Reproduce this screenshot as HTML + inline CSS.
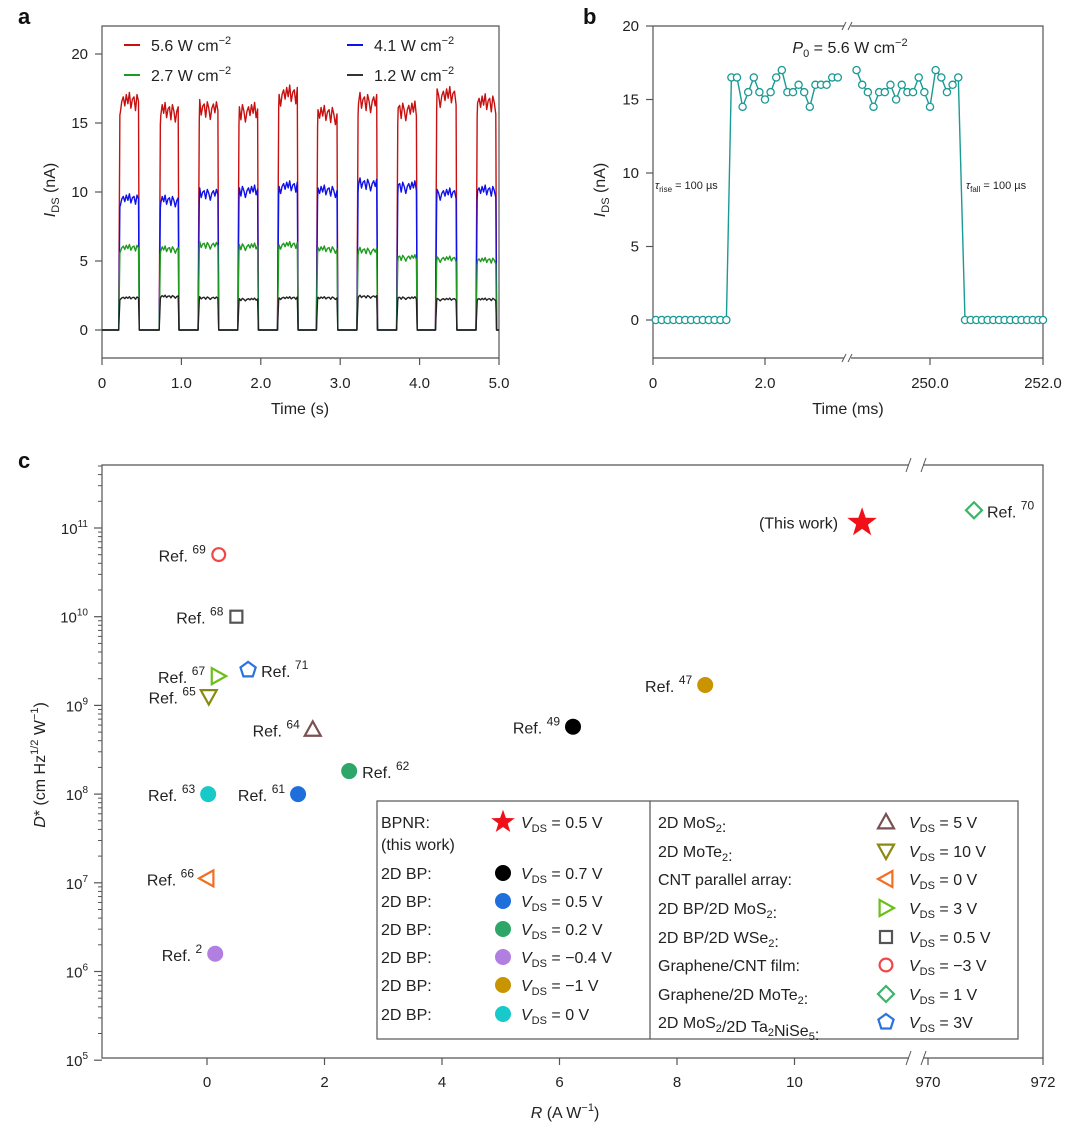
<!DOCTYPE html>
<html><head><meta charset="utf-8"><style>
html,body{margin:0;padding:0;background:#fff;}
svg{display:block;font-family:"Liberation Sans",Arial,sans-serif;}
</style></head><body>
<svg id="fig" width="1080" height="1135" viewBox="0 0 1080 1135" xmlns="http://www.w3.org/2000/svg">
<g id="pa"></g>
<g id="pb"></g>
<g id="pc"></g>
</svg>
<script>
// ---------- Panel a data ----------
const aTicksX = [0,1,2,3,4,5];
const aTickLabelsX = ["0","1.0","2.0","3.0","4.0","5.0"];
const aTicksY = [0,5,10,15,20];
const aRise = [0.21,0.72,1.21,1.71,2.21,2.70,3.21,3.71,4.20,4.71];
const aFall = [0.47,0.97,1.47,1.97,2.47,2.97,3.47,3.97,4.47,4.97];
const aRed   = [16.4,15.7,15.9,15.7,16.9,15.5,16.4,15.8,16.8,16.3];
const aBlue  = [9.4,9.3,9.8,10.0,10.3,10.0,10.5,10.3,9.8,10.0];
const aGreen = [5.9,5.8,6.1,6.0,6.1,5.8,5.7,5.2,5.1,5.0];
const aBlack = [2.3,2.4,2.3,2.2,2.3,2.3,2.4,2.3,2.2,2.2];
const aWiggle = [-0.04,0.01,0.03,-0.01,0.04,0.0,0.05,-0.02,0.02,0.03,-0.03,0.04,0.01];

// ---------- Panel b data ----------
const bLowLeftT = [0.05,0.155,0.26,0.365,0.47,0.575,0.68,0.785,0.89,0.995,1.1,1.205,1.31];
const bHighLeftT = [1.4,1.5,1.6,1.7,1.8,1.9,2.0,2.1,2.2,2.3,2.4,2.5,2.6,2.7,2.8,2.9,3.0,3.1,3.2,3.3];
const bHighLeftV = [16.5,16.5,14.5,15.5,16.5,15.5,15.0,15.5,16.5,17.0,15.5,15.5,16.0,15.5,14.5,16.0,16.0,16.0,16.5,16.5];
const bHighRightT = [248.7,248.8,248.9,249.0,249.1,249.2,249.3,249.4,249.5,249.6,249.7,249.8,249.9,250.0,250.1,250.2,250.3,250.4,250.5];
const bHighRightV = [17.0,16.0,15.5,14.5,15.5,15.5,16.0,15.0,16.0,15.5,15.5,16.5,15.5,14.5,17.0,16.5,15.5,16.0,16.5];
const bLowRightT = [250.62,250.72,250.82,250.92,251.02,251.12,251.22,251.32,251.42,251.52,251.62,251.72,251.82,251.92,252.0];
const bTicksY = [0,5,10,15,20];

// ---------- Panel c data ----------
const cNames = ["69","68","67","71","65","64","62","63","61","49","47","66","2","this","70"];
const cR    = [0.2,0.5,0.19,0.7,0.03,1.8,2.42,0.02,1.55,6.23,8.48,0.0,0.14,11.15,970.8];
const cLogD = [10.7,10.0,9.33,9.40,9.1,8.73,8.26,8.0,8.0,8.76,9.23,7.05,6.2,11.06,11.2];
const cShape = ["ocircle","square","tright","pent","tdown","tup","dot","dot","dot","dot","dot","tleft","dot","star","diamond"];
const cColor = ["#f04848","#555555","#6cbf1a","#2a72e0","#8a8a10","#7a5050","#2ea66a","#17c9c9","#1e6fdc","#000000","#c89400","#f07020","#b07fe0","#f01018","#3ab56a"];
const cSide = ["L","L","L","R","L","L","R","L","L","L","L","L","L","L","R"];
const cTicksX = [0,2,4,6,8,10];
const cTicksX2 = [970,972];
const cDecades = [5,6,7,8,9,10,11];

const NS="http://www.w3.org/2000/svg";
function mk(parent,tag,attrs){const e=document.createElementNS(NS,tag);for(const k in attrs)e.setAttribute(k,attrs[k]);parent.appendChild(e);return e;}

// ===== Panel a =====
const pa=document.getElementById('pa');
const aL=102,aR=499,aT=26,aB=358;
const ax=t=>aL+(t-0)*(aR-aL)/5;
const ay=v=>330-v*13.8;
let e;
e=mk(pa,'path',{d:`M${aL} ${aB} V${aT} H${aR} V${aB} Z`,fill:'none',stroke:'#555','stroke-width':1.2});


aTicksX.forEach((t,i)=>{
  mk(pa,'line',{x1:ax(t),x2:ax(t),y1:aB,y2:aB+7,stroke:'#555','stroke-width':1.2});
  e=mk(pa,'text',{x:ax(t),y:388,'font-size':15,'text-anchor':'middle',fill:'#222'});e.textContent=aTickLabelsX[i];
  
  
});
aTicksY.forEach(v=>{
  mk(pa,'line',{x1:aL,x2:aL-7,y1:ay(v),y2:ay(v),stroke:'#555','stroke-width':1.2});
  e=mk(pa,'text',{x:aL-14,y:ay(v)+5,'font-size':15,'text-anchor':'end',fill:'#222'});e.textContent=v;
  
  
});
e=mk(pa,'text',{x:300,y:414,'font-size':16,'text-anchor':'middle',fill:'#222'});e.textContent='Time (s)';


e=mk(pa,'text',{transform:'translate(55,190) rotate(-90)','font-size':16,'text-anchor':'middle',fill:'#222'});
e.innerHTML='<tspan font-style="italic">I</tspan><tspan font-size="11" dy="4">DS</tspan><tspan dy="-4"> (nA)</tspan>';


function trace(levels,color,name){
  let d=`M${ax(0)} ${ay(0)}`;
  levels.forEach((lv,i)=>{
    const t0=aRise[i],t1=aFall[i];
    d+=` L${ax(t0)} ${ay(0)} L${ax(t0+0.015)} ${ay(lv*0.95)}`;
    const n=aWiggle.length;
    for(let k=0;k<n;k++){const t=t0+0.02+(t1-t0-0.03)*k/(n-1);d+=` L${ax(t).toFixed(1)} ${ay(lv*(1+aWiggle[(k+i*3)%n])).toFixed(1)}`;}
    d+=` L${ax(t1)} ${ay(0)}`;
  });
  d+=` L${ax(5)} ${ay(0)}`;
  const p=mk(pa,'path',{d:d,fill:'none',stroke:color,'stroke-width':1.4,'stroke-linejoin':'round'});
  
  
}
trace(aRed,'#c81010','trace-5.6');
trace(aBlue,'#1010e8','trace-4.1');
trace(aGreen,'#1e9a1e','trace-2.7');
trace(aBlack,'#222','trace-1.2');
[[124,45,'#c81010','5.6'],[347,45,'#1010e8','4.1'],[124,75,'#1e9a1e','2.7'],[347,75,'#333','1.2']].forEach(l=>{
  mk(pa,'line',{x1:l[0],x2:l[0]+16,y1:l[1],y2:l[1],stroke:l[2],'stroke-width':2});
  e=mk(pa,'text',{x:l[0]+27,y:l[1]+6,'font-size':16,fill:'#222'});
  e.innerHTML=l[3]+' W cm<tspan font-size="11" dy="-7">−2</tspan>';
  
  
});
e=mk(pa,'text',{x:18,y:24,'font-size':22,'font-weight':'bold',fill:'#111'});e.textContent='a';



// ===== Panel b =====
const pb=document.getElementById('pb');
const bL=653,bR=1043,bT=26,bB=358,bBreak=848;
const bx=t=>t<100? bL+t*56 : 930+(t-250)*56.5;
const by=v=>320-v*14.7;
e=mk(pb,'path',{d:`M${bL} ${bT} V${bB} H${bR} V${bT} H${bL}`,fill:'none',stroke:'#555','stroke-width':1.2});


[bT,bB].forEach(y=>{
  mk(pb,'rect',{x:bBreak-4,y:y-4,width:7,height:8,fill:'#fff'});
  mk(pb,'line',{x1:bBreak-6,y1:y+4,x2:bBreak-2,y2:y-4,stroke:'#555'});
  mk(pb,'line',{x1:bBreak,y1:y+4,x2:bBreak+4,y2:y-4,stroke:'#555'});
});
[[0,'0'],[2,'2.0'],[250,'250.0'],[252,'252.0']].forEach(t=>{
  mk(pb,'line',{x1:bx(t[0]),x2:bx(t[0]),y1:bB,y2:bB+7,stroke:'#555','stroke-width':1.2});
  e=mk(pb,'text',{x:bx(t[0]),y:388,'font-size':15,'text-anchor':'middle',fill:'#222'});e.textContent=t[1];
  
  
});
bTicksY.forEach(v=>{
  mk(pb,'line',{x1:bL,x2:bL-7,y1:by(v),y2:by(v),stroke:'#555','stroke-width':1.2});
  e=mk(pb,'text',{x:bL-14,y:by(v)+5,'font-size':15,'text-anchor':'end',fill:'#222'});e.textContent=v;
  
  
});
e=mk(pb,'text',{x:848,y:414,'font-size':16,'text-anchor':'middle',fill:'#222'});e.textContent='Time (ms)';


e=mk(pb,'text',{transform:'translate(605,190) rotate(-90)','font-size':16,'text-anchor':'middle',fill:'#222'});
e.innerHTML='<tspan font-style="italic">I</tspan><tspan font-size="11" dy="4">DS</tspan><tspan dy="-4"> (nA)</tspan>';


const segL=[...bLowLeftT.map(t=>[t,0]),...bHighLeftT.map((t,i)=>[t,bHighLeftV[i]])];
const segR=[...bHighRightT.map((t,i)=>[t,bHighRightV[i]]),...bLowRightT.map(t=>[t,0])];
[segL,segR].forEach((seg,si)=>{
  const pl=mk(pb,'polyline',{points:seg.map(p=>bx(p[0]).toFixed(1)+','+by(p[1]).toFixed(1)).join(' '),fill:'none',stroke:'#1a9a94','stroke-width':1.4});
  
  
  seg.forEach(p=>{
    const c=mk(pb,'circle',{cx:bx(p[0]),cy:by(p[1]),r:3.6,fill:'#fff',stroke:'#1a9a94','stroke-width':1.3});
    
    
  });
});
e=mk(pb,'text',{x:850,y:53,'font-size':16,'text-anchor':'middle',fill:'#222'});
e.innerHTML='<tspan font-style="italic">P</tspan><tspan font-size="11" dy="4">0</tspan><tspan dy="-4"> = 5.6 W cm</tspan><tspan font-size="11" dy="-7">−2</tspan>';


e=mk(pb,'text',{x:655,y:189,'font-size':11,fill:'#222'});
e.innerHTML='<tspan font-style="italic">τ</tspan><tspan font-size="8" dy="3">rise</tspan><tspan dy="-3"> = 100 µs</tspan>';


e=mk(pb,'text',{x:966,y:189,'font-size':11,fill:'#222'});
e.innerHTML='<tspan font-style="italic">τ</tspan><tspan font-size="8" dy="3">fall</tspan><tspan dy="-3"> = 100 µs</tspan>';


e=mk(pb,'text',{x:583,y:24,'font-size':22,'font-weight':'bold',fill:'#111'});e.textContent='b';



// ===== Panel c =====
const pc=document.getElementById('pc');
const cL=102,cRt=1043,cT=465,cB=1058,cBreak=916;
const cx=r=>r<100? 207+r*58.75 : 928+(r-970)*57.5;
const cy=l=>528+(11-l)*88.7;
e=mk(pc,'path',{d:`M${cL} ${cT} V${cB} H${cRt} V${cT} Z`,fill:'none',stroke:'#555','stroke-width':1.2});


[cT,cB].forEach(y=>{
  mk(pc,'rect',{x:cBreak-7,y:y-4,width:14,height:8,fill:'#fff'});
  mk(pc,'line',{x1:cBreak-10,y1:y+7,x2:cBreak-5,y2:y-7,stroke:'#555'});
  mk(pc,'line',{x1:cBreak+5,y1:y+7,x2:cBreak+10,y2:y-7,stroke:'#555'});
});
[...cTicksX,...cTicksX2].forEach(r=>{
  mk(pc,'line',{x1:cx(r),x2:cx(r),y1:cB,y2:cB+7,stroke:'#555','stroke-width':1.2});
  e=mk(pc,'text',{x:cx(r),y:1087,'font-size':15,'text-anchor':'middle',fill:'#222'});e.textContent=r;
  
  
});
cDecades.forEach(d=>{
  mk(pc,'line',{x1:cL,x2:cL-8,y1:cy(d),y2:cy(d),stroke:'#555','stroke-width':1.2});
  for(let m=2;m<=9;m++){const y=cy(d+Math.log10(m));if(y>=cT)mk(pc,'line',{x1:cL,x2:cL-4,y1:y,y2:y,stroke:'#555'});}
  e=mk(pc,'text',{x:cL-14,y:cy(d)+6,'font-size':15,'text-anchor':'end',fill:'#222'});
  e.innerHTML='10<tspan font-size="10" dy="-7">'+d+'</tspan>';
  
  
});
e=mk(pc,'text',{x:565,y:1118,'font-size':16,'text-anchor':'middle',fill:'#222'});
e.innerHTML='<tspan font-style="italic">R</tspan> (A W<tspan font-size="11" dy="-7">−1</tspan><tspan dy="7">)</tspan>';


e=mk(pc,'text',{transform:'translate(45,765) rotate(-90)','font-size':16,'text-anchor':'middle',fill:'#222'});
e.innerHTML='<tspan font-style="italic">D</tspan>* (cm Hz<tspan font-size="11" dy="-7">1/2</tspan><tspan dy="7"> W</tspan><tspan font-size="11" dy="-7">−1</tspan><tspan dy="7">)</tspan>';


function marker(g,shape,x,y,col,s){
  const S=s||8;let m;
  if(shape==='dot') m=mk(g,'circle',{cx:x,cy:y,r:S,fill:col});
  else if(shape==='ocircle') m=mk(g,'circle',{cx:x,cy:y,r:S*0.8,fill:'none',stroke:col,'stroke-width':2.2});
  else if(shape==='square') m=mk(g,'rect',{x:x-S*0.75,y:y-S*0.75,width:S*1.5,height:S*1.5,fill:'none',stroke:col,'stroke-width':2.2});
  else if(shape==='diamond') m=mk(g,'polygon',{points:`${x},${y-S} ${x+S},${y} ${x},${y+S} ${x-S},${y}`,fill:'none',stroke:col,'stroke-width':2.2});
  else if(shape==='tup') m=mk(g,'polygon',{points:`${x},${y-S} ${x+S},${y+S*0.8} ${x-S},${y+S*0.8}`,fill:'none',stroke:col,'stroke-width':2.2});
  else if(shape==='tdown') m=mk(g,'polygon',{points:`${x},${y+S} ${x+S},${y-S*0.8} ${x-S},${y-S*0.8}`,fill:'none',stroke:col,'stroke-width':2.2});
  else if(shape==='tright') m=mk(g,'polygon',{points:`${x+S},${y} ${x-S*0.8},${y-S} ${x-S*0.8},${y+S}`,fill:'none',stroke:col,'stroke-width':2.2});
  else if(shape==='tleft') m=mk(g,'polygon',{points:`${x-S},${y} ${x+S*0.8},${y-S} ${x+S*0.8},${y+S}`,fill:'none',stroke:col,'stroke-width':2.2});
  else if(shape==='pent'){let p=[];for(let k=0;k<5;k++){const a=-Math.PI/2+k*2*Math.PI/5;p.push((x+S*Math.cos(a)).toFixed(1)+','+(y+S*Math.sin(a)).toFixed(1));}m=mk(g,'polygon',{points:p.join(' '),fill:'none',stroke:col,'stroke-width':2.2});}
  else if(shape==='star'){let p=[];for(let k=0;k<10;k++){const a=-Math.PI/2+k*Math.PI/5,rr=k%2?S*0.62:S*1.55;p.push((x+rr*Math.cos(a)).toFixed(1)+','+(y+rr*Math.sin(a)).toFixed(1));}m=mk(g,'polygon',{points:p.join(' '),fill:col});}
  return m;
}
cNames.forEach((n,i)=>{
  const x=cx(cR[i]),y=cy(cLogD[i]);
  const m=marker(pc,cShape[i],x,y,cColor[i],n==='this'?10:8);
  
  
  let t;
  if(n==='this'){t=mk(pc,'text',{x:x-24,y:y+6,'font-size':16,'text-anchor':'end',fill:'#222'});t.textContent='(This work)';}
  else if(cSide[i]==='L'){t=mk(pc,'text',{x:x-13,y:y+7,'font-size':16,'text-anchor':'end',fill:'#222'});t.innerHTML='Ref. <tspan font-size="12" dy="-8">'+n+'</tspan>';}
  else {t=mk(pc,'text',{x:x+13,y:y+7,'font-size':16,fill:'#222'});t.innerHTML='Ref. <tspan font-size="12" dy="-8">'+n+'</tspan>';}
  
  
});
// legend
const lg=mk(pc,'g',{});


mk(lg,'rect',{x:377,y:801,width:641,height:238,fill:'#fff',stroke:'#555','stroke-width':1.2});
mk(lg,'line',{x1:650,x2:650,y1:801,y2:1039,stroke:'#555','stroke-width':1.2});
const vds=(v)=>'<tspan font-style="italic">V</tspan><tspan font-size="11" dy="4">DS</tspan><tspan dy="-4"> = '+v+'</tspan>';
const leftRows=[['BPNR:','star','#f01018','0.5 V',822],['2D BP:','dot','#000','0.7 V',873],['2D BP:','dot','#1e6fdc','0.5 V',901],['2D BP:','dot','#2ea66a','0.2 V',929],['2D BP:','dot','#b07fe0','−0.4 V',957],['2D BP:','dot','#c89400','−1 V',985],['2D BP:','dot','#17c9c9','0 V',1014]];
leftRows.forEach(r=>{
  let t=mk(lg,'text',{x:381,y:r[4]+6,'font-size':16,fill:'#222'});t.textContent=r[0];
  
  
  marker(lg,r[1],503,r[4],r[2],r[1]==='star'?8:8);
  t=mk(lg,'text',{x:521,y:r[4]+6,'font-size':16,fill:'#222'});t.innerHTML=vds(r[3]);
  
  
});
e=mk(lg,'text',{x:381,y:850,'font-size':16,fill:'#222'});e.textContent='(this work)';


const sub=s=>'<tspan font-size="11" dy="4">'+s+'</tspan><tspan dy="-4"></tspan>';
const rightRows=[['2D MoS'+sub('2')+':','tup','#7a5050','5 V',822],['2D MoTe'+sub('2')+':','tdown','#8a8a10','10 V',851],['CNT parallel array:','tleft','#f07020','0 V',879],['2D BP/2D MoS'+sub('2')+':','tright','#6cbf1a','3 V',908],['2D BP/2D WSe'+sub('2')+':','square','#555','0.5 V',937],['Graphene/CNT film:','ocircle','#f04848','−3 V',965],['Graphene/2D MoTe'+sub('2')+':','diamond','#3ab56a','1 V',994],['2D MoS'+sub('2')+'/2D Ta'+sub('2')+'NiSe'+sub('5')+':','pent','#2a72e0','3V',1022]];
rightRows.forEach(r=>{
  let t=mk(lg,'text',{x:658,y:r[4]+6,'font-size':16,fill:'#222'});t.innerHTML=r[0];
  
  
  marker(lg,r[1],886,r[4],r[2],8);
  t=mk(lg,'text',{x:909,y:r[4]+6,'font-size':16,fill:'#222'});t.innerHTML=vds(r[3]);
  
  
});
e=mk(pc,'text',{x:18,y:468,'font-size':22,'font-weight':'bold',fill:'#111'});e.textContent='c';


</script>
</body></html>
